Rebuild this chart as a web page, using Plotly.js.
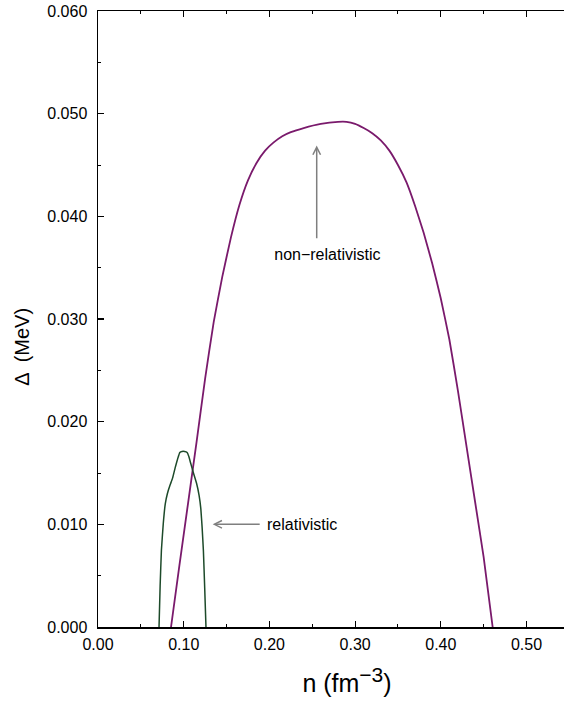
<!DOCTYPE html>
<html>
<head>
<meta charset="utf-8">
<script src="https://cdn.plot.ly/plotly-3.0.1.min.js"></script>
<style>
html,body{margin:0;padding:0;overflow:hidden;background:#fff;}
#chart{width:597px;height:702px;}
</style>
</head>
<body>
<div id="chart"></div>
<script>
// Non-relativistic gap Δ (MeV) vs density n (fm^-3)
const nonRelN = [0.0852, 0.095, 0.105, 0.115, 0.125, 0.135, 0.145, 0.155, 0.165, 0.175, 0.185, 0.195, 0.205, 0.215, 0.225, 0.240, 0.260, 0.280, 0.290, 0.300, 0.310, 0.320, 0.330, 0.340, 0.350, 0.360, 0.370, 0.380, 0.390, 0.400, 0.410, 0.420, 0.430, 0.440, 0.450, 0.4605];
const nonRelD = [0.0000, 0.0060, 0.0120, 0.0180, 0.0242, 0.0297, 0.0341, 0.0379, 0.0411, 0.0435, 0.0452, 0.0464, 0.0472, 0.0478, 0.0482, 0.0486, 0.0490, 0.0492, 0.0492, 0.0490, 0.0486, 0.0481, 0.0474, 0.0464, 0.0450, 0.0433, 0.0410, 0.0384, 0.0354, 0.0320, 0.0280, 0.0230, 0.0176, 0.0122, 0.0068, 0.0000];

// Relativistic gap
const relN = [0.0712, 0.0725, 0.0740, 0.0762, 0.0785, 0.0810, 0.0840, 0.0870, 0.0900, 0.0930, 0.0955, 0.0980, 0.1010, 0.1040, 0.1060, 0.1080, 0.1110, 0.1150, 0.1180, 0.1200, 0.1215, 0.1230, 0.1245, 0.1260];
const relD = [0.0000, 0.0040, 0.0075, 0.0101, 0.0120, 0.0130, 0.0138, 0.0145, 0.0155, 0.0164, 0.0170, 0.0171, 0.0171, 0.0170, 0.0166, 0.0160, 0.0151, 0.0140, 0.0128, 0.0115, 0.0097, 0.0074, 0.0038, 0.0000];

const xTickVals = [0, 0.1, 0.2, 0.3, 0.4, 0.5];
const xTickText = ['0.00', '0.10', '0.20', '0.30', '0.40', '0.50'];
const yTickVals = [0, 0.01, 0.02, 0.03, 0.04, 0.05, 0.06];
const yTickText = ['0.000', '0.010', '0.020', '0.030', '0.040', '0.050', '0.060'];

const FONT = 'Liberation Sans, Arial, Helvetica, sans-serif';

const traces = [
  {x: nonRelN, y: nonRelD, type: 'scatter', mode: 'lines', name: 'non-relativistic',
   line: {color: '#7a1a6c', width: 1.8, shape: 'spline', smoothing: 0.4}},
  {x: relN, y: relD, type: 'scatter', mode: 'lines', name: 'relativistic',
   line: {color: '#1d4a2a', width: 1.5, shape: 'spline', smoothing: 0.3}}
];

const axisCommon = {
  showline: true, linecolor: '#000', linewidth: 1.5, mirror: 'ticks',
  ticks: 'inside', ticklen: 6, tickwidth: 1.2, tickcolor: '#000',
  showgrid: false, zeroline: false, automargin: false,
  tickfont: {family: FONT, size: 16, color: '#000'}
};

const layout = {
  width: 597, height: 702,
  margin: {l: 98, r: 1, t: 11, b: 75},
  paper_bgcolor: '#fff', plot_bgcolor: '#fff',
  showlegend: false,
  font: {family: FONT, color: '#000'},
  xaxis: Object.assign({}, axisCommon, {
    range: [0, 0.5811], tickvals: xTickVals, ticktext: xTickText,
    minor: {dtick: 0.05, ticks: 'inside', ticklen: 3, tickcolor: '#000', tickwidth: 1},
    ticklabelstandoff: 2,
    title: {text: 'n (fm<sup><span style="font-size:21px">−3</span></sup>)',
            font: {family: FONT, size: 25, color: '#000'}, standoff: 23}
  }),
  yaxis: Object.assign({}, axisCommon, {
    range: [0, 0.06], tickvals: yTickVals, ticktext: yTickText,
    minor: {dtick: 0.005, ticks: 'inside', ticklen: 3, tickcolor: '#000', tickwidth: 1},
    ticklabelstandoff: 6,
    title: {text: 'Δ  (MeV)&nbsp;&nbsp;&nbsp;&nbsp;&nbsp;&nbsp;&nbsp;&nbsp;&nbsp;&nbsp;',
            font: {family: FONT, size: 20, color: '#000'}, standoff: 12}
  }),
  annotations: [
    {x: 0.2552, y: 0.0469, ax: 0.2552, ay: 0.0363, axref: 'x', ayref: 'y', xref: 'x', yref: 'y',
     xanchor: 'center', yanchor: 'middle', startstandoff: 6,
     text: '&nbsp;&nbsp;&nbsp;&nbsp;&nbsp;non−relativistic', font: {family: FONT, size: 16, color: '#000'},
     showarrow: true, arrowhead: 5, arrowsize: 1, arrowwidth: 1.5, arrowcolor: '#7f7f7f'},
    {x: 0.1338, y: 0.0100, ax: 0.1945, ay: 0.0100, axref: 'x', ayref: 'y', xref: 'x', yref: 'y',
     xanchor: 'left', yanchor: 'middle', startstandoff: 5,
     text: 'relativistic', font: {family: FONT, size: 16, color: '#000'},
     showarrow: true, arrowhead: 5, arrowsize: 1, arrowwidth: 1.5, arrowcolor: '#7f7f7f'}
  ]
};

Plotly.newPlot('chart', traces, layout, {displayModeBar: false, staticPlot: true});
</script>
</body>
</html>
